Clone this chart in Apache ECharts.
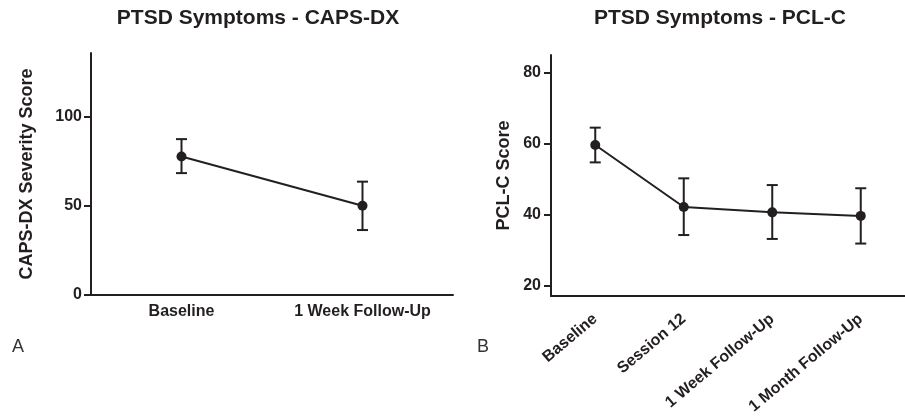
<!DOCTYPE html>
<html><head><meta charset="utf-8">
<script src="https://cdn.jsdelivr.net/npm/echarts@6/dist/echarts.min.js"></script>
<style>html,body{margin:0;padding:0;background:#fff}#c{width:905px;height:418px}</style>
</head><body><div id="c"></div>
<script>
// ---- data ----
const capsCategories = ['Baseline', '1 Week Follow-Up'];
const capsMean = [77.8, 50.2];
const capsLow = [68.5, 36.5];
const capsHigh = [87.6, 63.7];
const capsTicks = [0, 50, 100];

const pclCategories = ['Baseline', 'Session 12', '1 Week Follow-Up', '1 Month Follow-Up'];
const pclMean = [59.6, 42.1, 40.6, 39.6];
const pclLow = [54.7, 34.2, 33.1, 31.8];
const pclHigh = [64.5, 50.2, 48.3, 47.4];
const pclTicks = [20, 40, 60, 80];

const titles = ['PTSD Symptoms - CAPS-DX', 'PTSD Symptoms - PCL-C'];
const yNames = ['CAPS-DX Severity Score', 'PCL-C Score'];
const panelLetters = ['A', 'B'];

// ---- style ----
const ink = '#231f20';
const FONT = '"Liberation Sans", Arial, Helvetica, sans-serif';

function errRender(params, api) {
  const x = api.value(0), lo = api.value(1), hi = api.value(2);
  const pLo = api.coord([x, lo]), pHi = api.coord([x, hi]);
  const w = 5.5;
  const style = { stroke: ink, lineWidth: 2, fill: null };
  return {
    type: 'group', children: [
      { type: 'line', shape: { x1: pHi[0], y1: pHi[1], x2: pLo[0], y2: pLo[1] }, style },
      { type: 'line', shape: { x1: pHi[0] - w, y1: pHi[1], x2: pHi[0] + w, y2: pHi[1] }, style },
      { type: 'line', shape: { x1: pLo[0] - w, y1: pLo[1], x2: pLo[0] + w, y2: pLo[1] }, style }
    ]
  };
}

const chart = echarts.init(document.getElementById('c'), null, { renderer: 'canvas' });

function xAxisCfg(gridIndex, cats, rotate, margin) {
  return {
    type: 'category', gridIndex, data: cats, boundaryGap: true,
    axisLine: { lineStyle: { color: ink, width: 2 } },
    axisTick: { alignWithLabel: true, length: 7, lineStyle: { color: ink, width: 2 } },
    axisLabel: {
      color: ink, fontFamily: FONT, fontWeight: 'bold', fontSize: 16,
      margin, rotate, interval: 0
    },
    splitLine: { show: false }
  };
}
function yAxisCfg(gridIndex, min, max, ticks, name, nameGap, margin) {
  return {
    type: 'value', gridIndex, min, max,
    name, nameLocation: 'middle', nameGap,
    nameTextStyle: { color: ink, fontFamily: FONT, fontWeight: 'bold', fontSize: 18 },
    axisLine: { show: true, lineStyle: { color: ink, width: 2 } },
    axisTick: { show: true, length: 7, customValues: ticks, lineStyle: { color: ink, width: 2 } },
    axisLabel: { color: ink, fontFamily: FONT, fontWeight: 'bold', fontSize: 16, margin, customValues: ticks },
    splitLine: { show: false }
  };
}

const option = {
  animation: false,
  backgroundColor: '#fff',
  grid: [
    { left: 91, top: 53, width: 362, height: 242 },
    { left: 551, top: 55, width: 363, height: 241 }
  ],
  xAxis: [
    xAxisCfg(0, capsCategories, 0, 9),
    xAxisCfg(1, pclCategories, 40, 21)
  ],
  yAxis: [
    yAxisCfg(0, 0, 136, capsTicks, yNames[0], 55, 9),
    yAxisCfg(1, 17, 85, pclTicks, yNames[1], 38, 10)
  ],
  graphic: [
    { type: 'text', x: 258, y: 8, style: { text: titles[0], fill: ink, font: 'bold 21px ' + FONT, textAlign: 'center', textVerticalAlign: 'top' } },
    { type: 'text', x: 720, y: 8, style: { text: titles[1], fill: ink, font: 'bold 21px ' + FONT, textAlign: 'center', textVerticalAlign: 'top' } },
    { type: 'text', x: 12, y: 338, style: { text: panelLetters[0], fill: '#333', font: '18px ' + FONT, textAlign: 'left', textVerticalAlign: 'top' } },
    { type: 'text', x: 477, y: 338, style: { text: panelLetters[1], fill: '#333', font: '18px ' + FONT, textAlign: 'left', textVerticalAlign: 'top' } }
  ],
  series: [
    {
      type: 'custom', xAxisIndex: 0, yAxisIndex: 0, renderItem: errRender,
      data: capsCategories.map((c, i) => [i, capsLow[i], capsHigh[i]]),
      encode: { x: 0, y: [1, 2] }, z: 2, silent: true
    },
    {
      type: 'line', xAxisIndex: 0, yAxisIndex: 0, data: capsMean,
      symbol: 'circle', symbolSize: 10, showSymbol: true,
      lineStyle: { color: ink, width: 2 }, itemStyle: { color: ink }, z: 3
    },
    {
      type: 'custom', xAxisIndex: 1, yAxisIndex: 1, renderItem: errRender,
      data: pclCategories.map((c, i) => [i, pclLow[i], pclHigh[i]]),
      encode: { x: 0, y: [1, 2] }, z: 2, silent: true, clip: false
    },
    {
      type: 'line', xAxisIndex: 1, yAxisIndex: 1, data: pclMean,
      symbol: 'circle', symbolSize: 10, showSymbol: true,
      lineStyle: { color: ink, width: 2 }, itemStyle: { color: ink }, z: 3
    }
  ]
};
chart.setOption(option);
</script>
</body></html>
